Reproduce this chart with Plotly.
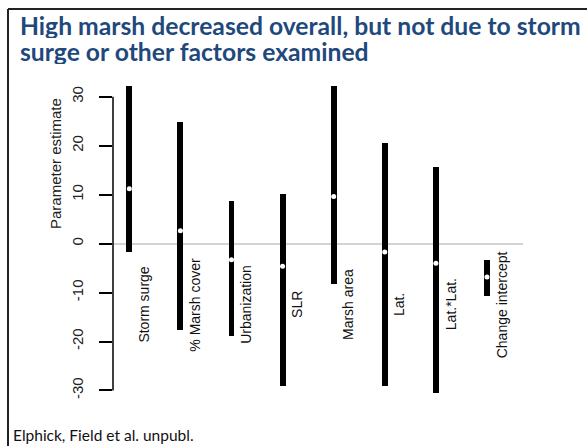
import plotly.graph_objects as go

# ---- data ----
categories = ["Storm surge", "% Marsh cover", "Urbanization", "SLR",
              "Marsh area", "Lat.", "Lat.*Lat.", "Change intercept"]
estimate = [11.2, 2.65, -3.3, -4.6, 9.65, -1.7, -4.0, -6.8]
lower = [-1.8, -17.6, -18.8, -29.1, -8.2, -29.1, -30.6, -10.8]
upper = [35.0, 24.8, 8.8, 10.1, 35.0, 20.5, 15.6, -3.3]
y_ticks = [-30, -20, -10, 0, 10, 20, 30]
y_tick_labels = ["-30", "-20", "-10", "0", "10", "20", "30"]

title_lines = ["High marsh decreased overall, but not due to storm",
               "surge or other factors examined"]
footer = "Elphick, Field et al. unpubl."
y_title = "Parameter estimate"

# ---- layout geometry (pixels) ----
W, H = 587, 446
L, R, T, B = 113, 523, 86, 400
PW, PH = R - L, B - T


def px_x(p):
    return (p - L) / PW


def px_y(p):
    return (B - p) / PH


xs = list(range(len(categories)))

fig = go.Figure()
fig.add_trace(go.Bar(
    x=xs, y=[u - l for u, l in zip(upper, lower)], base=lower,
    width=0.117, marker=dict(color="black", line=dict(width=0)),
    hoverinfo="skip", showlegend=False))
fig.add_trace(go.Scatter(
    x=xs, y=estimate, mode="markers",
    marker=dict(color="white", size=5, line=dict(width=0)),
    showlegend=False, cliponaxis=False))

annotations = []
for i, c in enumerate(categories):
    annotations.append(dict(
        x=i, y=-12.4, xref="x", yref="y", text=c, showarrow=False,
        textangle=-90, xanchor="center", yanchor="middle", xshift=15,
        font=dict(family="Liberation Sans, Arial", size=14, color="#111")))

annotations.append(dict(
    x=px_x(55), y=px_y(164), xref="paper", yref="paper", text=y_title,
    showarrow=False, textangle=-90, xanchor="center", yanchor="middle",
    font=dict(family="Liberation Sans, Arial", size=15, color="#222")))

annotations.append(dict(
    x=px_x(18), y=px_y(24.5), xref="paper", yref="paper", text="<b>%s</b>" % title_lines[0],
    showarrow=False, xanchor="left", yanchor="middle", height=26, valign="middle",
    font=dict(family="Lato", size=24.7, color="#1F497D")))
annotations.append(dict(
    x=px_x(18), y=px_y(50.5), xref="paper", yref="paper", text="<b>%s</b>" % title_lines[1],
    showarrow=False, xanchor="left", yanchor="middle", height=26, valign="middle",
    font=dict(family="Lato", size=24.7, color="#1F497D")))
annotations.append(dict(
    x=px_x(11), y=px_y(435), xref="paper", yref="paper", text=footer,
    showarrow=False, xanchor="left", yanchor="middle",
    font=dict(family="Lato", size=15.5, color="#111")))

shapes = [
    # y axis line spanning the tick range
    dict(type="line", xref="paper", yref="y", x0=0, x1=0,
         y0=min(y_ticks), y1=max(y_ticks), line=dict(color="black", width=1.5)),
    # slide frame
    dict(type="line", xref="paper", yref="paper", x0=px_x(8), x1=px_x(W + 5),
         y0=px_y(9), y1=px_y(9), line=dict(color="#222", width=2)),
    dict(type="line", xref="paper", yref="paper", x0=px_x(8), x1=px_x(8),
         y0=px_y(9), y1=px_y(H + 5), line=dict(color="#222", width=2)),
]

fig.update_layout(
    width=W, height=H,
    margin=dict(l=L, r=W - R, t=T, b=H - B),
    paper_bgcolor="white", plot_bgcolor="white",
    annotations=annotations, shapes=shapes,
    xaxis=dict(range=[-0.319, 7.705], showgrid=False, zeroline=False,
               showticklabels=False, showline=False, ticks=""),
    yaxis=dict(range=[-31.95, 32.2], tickvals=y_ticks, ticktext=y_tick_labels,
               ticks="outside",
               ticklen=13, tickwidth=1.5, tickcolor="black",
               tickangle=-90, ticklabelstandoff=10,
               tickfont=dict(family="Liberation Sans, Arial", size=15, color="#222"),
               showgrid=False, showline=False,
               zeroline=True, zerolinecolor="#d3d3d3", zerolinewidth=2),
    bargap=0,
)

fig.write_html("out.html", config={"displayModeBar": False},
               post_script="document.body.style.margin='0';document.body.style.overflow='hidden';")
